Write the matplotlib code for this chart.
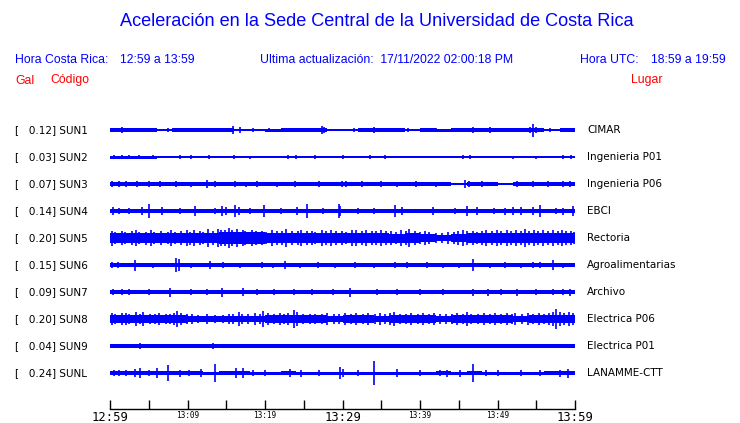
import numpy as np
import matplotlib
matplotlib.use("Agg")
import matplotlib.pyplot as plt
from matplotlib.transforms import blended_transform_factory

# ----------------------------------
# DATA
# ----------------------------------
codes = ["SUN1", "SUN2", "SUN3", "SUN4", "SUN5", "SUN6", "SUN7", "SUN8", "SUN9", "SUNL"]
peaks = [0.12, 0.03, 0.07, 0.14, 0.20, 0.15, 0.09, 0.20, 0.04, 0.24]
places = ["CIMAR", "Ingenieria P01", "Ingenieria P06", "EBCI", "Rectoria",
          "Agroalimentarias", "Archivo", "Electrica P06", "Electrica P01", "LANAMME-CTT"]

# time axis: minutes after 12:59
tick_minutes = [0, 5, 10, 15, 20, 25, 30, 35, 40, 45, 50, 55, 60]
big_labels = {0: "12:59", 30: "13:29", 60: "13:59"}
small_labels = {10: "13:09", 20: "13:19", 40: "13:39", 50: "13:49"}

# background envelope (half-width in px) per 2-minute window
env_sun1 = [1.9, 1.9, 1.8, 1.4, 1.9, 1.7, 1.9, 1.7, 1.3, 1.1, 1.5, 1.9, 1.9, 1.9, 1.4,
            1.1, 1.7, 1.9, 1.6, 1.3, 1.8, 1.5, 1.6, 1.9, 1.9, 1.9, 1.9, 1.9, 1.3, 1.9]
env_sun2 = [1.5, 1.5, 1.5, 1.2, 1.4, 1.3, 1.2, 1.0, 1.3, 1.0, 0.9, 1.3, 1.0, 1.2, 1.2,
            1.0, 0.8, 0.9, 0.7, 0.8, 0.7, 0.7, 1.2, 1.2, 0.6, 0.7, 0.7, 0.7, 1.0, 1.4]
env_sun3 = [2.4, 2.3, 2.3, 2.2, 2.3, 2.0, 2.2, 1.9, 1.9, 1.9, 1.9, 1.9, 1.9, 1.9, 2.0,
            1.9, 1.9, 1.9, 1.9, 1.9, 1.9, 1.9, 0.6, 2.0, 1.9, 0.6, 2.0, 2.0, 2.0, 2.2]
env_sun4 = [2.2, 1.9, 1.9, 1.9, 1.9, 1.9, 1.9, 1.9, 1.9, 1.9, 1.9, 1.9, 1.9, 1.9, 1.9,
            1.9, 1.9, 1.9, 1.9, 1.9, 1.9, 1.9, 1.9, 1.9, 1.9, 1.9, 2.0, 1.9, 1.9, 2.0]
env_sun5 = [5.2, 5.2, 5.0, 5.0, 5.2, 5.2, 5.4, 5.6, 5.6, 5.6, 5.4, 5.2, 5.0, 5.2, 5.0,
            4.8, 4.8, 4.7, 4.5, 4.6, 4.2, 3.4, 3.8, 4.8, 4.8, 5.2, 5.2, 5.4, 5.2, 5.2]
env_sun6 = [1.9, 1.8, 1.8, 1.8, 1.8, 1.8, 1.8, 1.8, 1.8, 1.8, 1.8, 1.8, 1.8, 1.8, 1.8,
            1.6, 1.8, 1.8, 1.8, 1.8, 1.8, 1.8, 1.8, 1.8, 1.8, 1.8, 1.8, 1.8, 1.8, 1.8]
env_sun7 = [2.0, 2.0, 2.0, 2.0, 2.0, 2.0, 2.0, 2.0, 2.0, 2.0, 2.0, 2.0, 2.0, 2.0, 2.0,
            2.0, 2.0, 2.0, 2.0, 2.0, 2.0, 2.0, 2.0, 2.0, 2.0, 2.0, 2.0, 2.0, 2.0, 2.0]
env_sun8 = [4.0, 3.9, 3.6, 3.6, 3.9, 3.2, 3.2, 2.8, 2.8, 3.4, 3.6, 3.8, 3.9, 3.6, 3.2,
            3.6, 3.6, 3.4, 3.7, 3.7, 3.6, 3.4, 3.6, 3.7, 3.7, 3.6, 3.4, 3.6, 4.1, 4.2]
env_sun9 = [1.6, 1.6, 1.6, 1.6, 1.6, 1.6, 1.6, 1.6, 1.6, 1.6, 1.6, 1.6, 1.6, 1.6, 1.6,
            1.6, 1.6, 1.6, 1.6, 1.6, 1.6, 1.6, 1.6, 1.6, 1.6, 1.6, 1.6, 1.6, 1.6, 1.6]
env_sunl = [2.0, 2.0, 1.8, 2.0, 2.0, 1.6, 1.5, 2.0, 1.8, 1.5, 1.5, 1.6, 1.5, 1.5, 1.5,
            1.5, 1.5, 1.5, 1.5, 1.5, 1.5, 1.6, 1.5, 1.8, 1.5, 1.5, 1.5, 1.5, 1.8, 2.0]

# bursts: (minute, half-height in px)
spk_sun1 = [(0.5, 2.4), (1.5, 2.8), (3.0, 2.4), (4.5, 2.2), (7.5, 2.2), (9.0, 2.4),
            (11.0, 2.4), (12.5, 2.4), (14.0, 2.3), (15.9, 3.8), (16.8, 2.6), (18.5, 2.0),
            (20.5, 2.0), (22.8, 2.2), (24.5, 2.4), (26.0, 2.4), (27.3, 3.6), (27.6, 2.8),
            (31.5, 2.0), (33.0, 2.4), (34.0, 2.6), (36.5, 2.2), (38.5, 2.0), (40.5, 2.2),
            (42.0, 2.4), (44.5, 2.2), (46.9, 2.6), (47.5, 2.4), (49.0, 2.6), (50.2, 2.2),
            (52.0, 2.4), (53.5, 2.4), (54.2, 3.2), (54.6, 6.5), (55.0, 3.0), (56.8, 2.2),
            (58.5, 2.2), (59.5, 2.4)]
spk_sun2 = [(0.5, 1.7), (1.5, 1.8), (2.5, 1.8), (3.8, 1.6), (5.5, 1.6), (9.0, 1.6),
            (10.5, 1.6), (12.8, 1.6), (16.0, 1.7), (18.0, 1.5), (23.0, 1.7), (24.0, 1.6),
            (26.5, 1.6), (30.0, 1.7), (33.5, 1.6), (35.5, 1.6), (45.5, 1.8), (46.5, 1.8),
            (52.0, 1.5), (55.0, 1.5), (58.5, 1.7), (59.5, 1.7)]
spk_sun3 = [(0.3, 3.0), (1.2, 2.8), (2.0, 2.8), (3.5, 2.7), (5.0, 2.6), (6.5, 2.7),
            (8.5, 2.6), (10.5, 2.5), (12.5, 3.6), (13.5, 3.2), (16.1, 3.0), (17.5, 2.5),
            (19.0, 2.8), (21.5, 2.5), (23.9, 3.2), (27.0, 2.6), (29.9, 3.0), (30.5, 2.8),
            (32.5, 2.6), (35.0, 2.6), (37.0, 2.5), (39.5, 2.6), (42.0, 2.5), (45.8, 3.6),
            (46.3, 3.2), (48.0, 2.6), (52.5, 2.6), (54.6, 3.2), (56.5, 2.6), (58.5, 3.0),
            (59.4, 3.2)]
spk_sun4 = [(0.4, 4.0), (1.2, 3.0), (2.5, 3.0), (4.1, 4.0), (5.0, 7.0), (6.7, 4.0),
            (9.0, 3.0), (11.0, 5.0), (13.5, 3.0), (14.4, 5.0), (15.0, 4.0), (16.1, 6.0),
            (16.6, 4.0), (18.0, 3.0), (19.9, 6.0), (22.0, 3.0), (24.1, 4.0), (25.4, 7.0),
            (27.5, 3.0), (29.5, 7.0), (29.7, 5.0), (32.0, 3.0), (34.0, 3.0), (36.8, 6.0),
            (37.7, 4.0), (41.7, 4.0), (44.5, 3.0), (46.0, 5.0), (47.3, 4.0), (49.5, 3.0),
            (51.0, 3.5), (52.0, 4.0), (53.0, 4.0), (54.6, 4.0), (55.5, 6.0), (57.5, 3.0),
            (58.5, 3.5), (59.8, 5.0)]
spk_sun5 = [(0.2, 7.5), (0.7, 6.0), (1.5, 7.0), (1.9, 5.8), (2.8, 6.8), (3.4, 7.6),
            (3.7, 6.0), (4.6, 6.5), (5.3, 7.8), (5.7, 6.2), (6.6, 7.0), (7.5, 6.4),
            (7.9, 7.8), (8.4, 6.2), (9.1, 7.4), (9.9, 8.2), (10.3, 6.5), (10.9, 8.4),
            (11.6, 7.0), (12.0, 6.2), (12.7, 8.6), (13.3, 7.2), (13.9, 9.2), (14.3, 7.8),
            (14.9, 8.4), (15.3, 9.6), (15.8, 7.6), (16.4, 9.0), (17.1, 8.2), (17.4, 7.0),
            (18.3, 7.8), (18.9, 6.6), (19.6, 7.4), (20.1, 6.4), (20.9, 7.8), (21.5, 6.6),
            (22.2, 7.2), (22.7, 8.6), (23.5, 7.2), (24.2, 6.6), (24.6, 7.8), (25.4, 6.8),
            (26.1, 7.4), (26.5, 6.4), (27.3, 8.0), (27.9, 7.0), (28.5, 8.4), (29.1, 6.8),
            (29.9, 7.2), (30.4, 6.2), (31.2, 7.6), (31.7, 8.2), (32.5, 6.8), (33.0, 7.6),
            (33.8, 6.6), (34.3, 7.2), (35.0, 8.2), (35.6, 6.8), (36.2, 7.4), (36.9, 6.4),
            (37.5, 7.8), (38.2, 7.0), (38.6, 8.8), (39.4, 7.2), (40.0, 6.4), (40.6, 7.2),
            (41.2, 6.0), (42.0, 5.2), (42.9, 4.8), (43.6, 5.6), (44.4, 6.0), (44.9, 7.0),
            (45.6, 7.6), (46.1, 6.8), (46.8, 7.4), (47.4, 6.4), (48.0, 7.4), (48.5, 8.4),
            (49.3, 7.2), (49.9, 7.8), (50.5, 6.8), (51.2, 7.6), (51.8, 7.0), (52.4, 8.4),
            (53.0, 7.2), (53.6, 9.0), (54.0, 7.4), (54.7, 8.4), (55.2, 7.0), (55.9, 7.8),
            (56.5, 6.8), (57.1, 7.6), (57.8, 7.0), (58.3, 8.0), (58.9, 6.8), (59.5, 7.4),
            (59.9, 6.4)]
spk_sun6 = [(0.2, 3.0), (1.0, 2.6), (3.2, 5.5), (5.5, 2.5), (8.5, 7.0), (8.9, 6.0),
            (10.5, 2.5), (12.9, 4.0), (14.6, 3.0), (16.8, 2.5), (19.6, 3.0), (21.0, 2.5),
            (22.6, 4.0), (24.5, 2.5), (26.9, 3.0), (29.0, 2.5), (31.6, 3.0), (34.0, 2.5),
            (36.8, 3.0), (38.3, 3.0), (40.9, 3.0), (43.0, 2.5), (45.0, 2.5), (46.9, 6.0),
            (49.0, 2.5), (51.0, 3.0), (53.0, 2.5), (54.6, 3.0), (55.5, 3.0), (57.1, 5.0),
            (58.5, 2.5)]
spk_sun7 = [(0.4, 3.0), (1.5, 2.6), (2.5, 2.6), (5.0, 2.6), (7.7, 4.5), (10.5, 2.6),
            (12.5, 2.6), (14.4, 4.5), (17.2, 4.0), (19.0, 2.6), (21.1, 3.0), (23.7, 3.0),
            (26.0, 2.6), (28.8, 3.0), (31.0, 4.5), (34.5, 2.6), (37.0, 2.6), (40.0, 2.6),
            (43.0, 2.6), (46.9, 3.5), (48.8, 3.5), (50.5, 2.6), (52.5, 3.5), (55.0, 2.8),
            (57.2, 3.0), (58.5, 2.8), (59.4, 3.5)]
spk_sun8 = [(0.2, 6.4), (0.6, 5.0), (1.5, 5.6), (2.1, 6.2), (2.5, 4.8), (3.3, 6.6),
            (3.9, 5.2), (4.3, 6.8), (5.1, 5.4), (5.8, 4.6), (6.3, 5.8), (7.2, 4.6),
            (7.7, 5.2), (8.2, 6.4), (8.6, 8.0), (9.2, 6.0), (9.9, 5.2), (10.6, 4.6),
            (11.4, 4.2), (12.5, 4.6), (13.5, 4.0), (14.6, 4.4), (15.4, 5.2), (15.9, 4.6),
            (16.6, 6.6), (17.0, 5.2), (17.8, 4.8), (18.7, 5.8), (19.3, 5.0), (19.8, 8.0),
            (20.4, 6.2), (21.1, 5.0), (21.9, 5.8), (22.4, 4.8), (23.0, 6.4), (23.7, 9.0),
            (24.1, 6.6), (24.9, 5.2), (25.8, 4.6), (26.5, 5.4), (27.4, 4.6), (28.0, 5.6),
            (28.9, 4.8), (29.5, 5.4), (30.3, 6.2), (31.1, 4.6), (31.8, 5.6), (32.7, 4.8),
            (33.3, 5.8), (34.2, 4.8), (34.9, 5.6), (35.5, 4.8), (36.1, 5.8), (36.6, 6.6),
            (37.4, 5.2), (38.2, 4.8), (38.9, 5.8), (39.7, 4.8), (40.4, 5.6), (41.2, 4.6),
            (41.8, 5.8), (42.6, 4.8), (43.3, 5.4), (44.1, 4.6), (44.8, 5.6), (45.5, 4.8),
            (46.0, 6.6), (46.6, 5.4), (47.5, 4.8), (48.2, 5.8), (49.0, 4.6), (49.7, 5.6),
            (50.4, 4.8), (51.2, 5.8), (51.9, 4.8), (52.3, 6.0), (53.1, 4.6), (53.9, 5.6),
            (54.6, 4.8), (55.3, 5.6), (56.0, 4.8), (56.6, 6.2), (57.1, 7.2), (57.6, 10.0),
            (58.0, 7.4), (58.6, 6.4), (59.2, 7.0), (59.8, 6.0)]
spk_sun9 = [(3.9, 2.6), (9.8, 2.4), (13.3, 2.6), (19.0, 2.2), (30.5, 2.4), (36.0, 2.2),
            (44.0, 2.2), (52.0, 2.2), (59.0, 2.2)]
spk_sunl = [(0.5, 3.0), (1.2, 2.6), (2.0, 2.6), (3.2, 4.0), (3.9, 5.0), (5.0, 2.6),
            (6.0, 5.0), (7.5, 8.0), (9.0, 3.5), (10.2, 2.6), (11.8, 4.0), (13.5, 9.0),
            (16.3, 5.0), (17.1, 5.0), (18.5, 2.6), (20.0, 2.6), (23.2, 4.0), (24.7, 3.5),
            (27.0, 2.6), (29.7, 6.0), (30.0, 4.0), (32.0, 2.6), (34.1, 12.0), (37.0, 4.0),
            (40.0, 2.6), (42.6, 3.0), (43.5, 3.5), (45.2, 3.5), (46.9, 9.0), (48.5, 2.6),
            (50.0, 2.6), (53.0, 2.6), (55.5, 2.6), (58.1, 3.5), (59.1, 4.5)]

envelopes = [env_sun1, env_sun2, env_sun3, env_sun4, env_sun5,
             env_sun6, env_sun7, env_sun8, env_sun9, env_sunl]
bursts = [spk_sun1, spk_sun2, spk_sun3, spk_sun4, spk_sun5,
          spk_sun6, spk_sun7, spk_sun8, spk_sun9, spk_sunl]

# ----------------------------------
# LAYOUT (pixels of a 740x423 image)
# ----------------------------------
W, H = 740, 423
BLUE = "#0000ff"
RED = "#ff0000"
row0, row_step = 130, 27
x0, x1 = 110, 575


def fx(x):
    return x / W


def fy(y):
    return 1 - y / H


fig = plt.figure(figsize=(W / 100, H / 100), dpi=100)
fig.patch.set_facecolor("white")

hfont = dict(family="Liberation Sans", color=BLUE, fontsize=8.8, va="center")

fig.text(fx(377), fy(22), "Aceleración en la Sede Central de la Universidad de Costa Rica",
         family="Liberation Sans", color=BLUE, fontsize=13.1, ha="center", va="center")
fig.text(fx(15), fy(60), "Hora Costa Rica:", **hfont)
fig.text(fx(120.5), fy(60), "12:59 a 13:59", **hfont)
fig.text(fx(260.5), fy(60), "Ultima actualización:  17/11/2022 02:00:18 PM", **hfont)
fig.text(fx(580.5), fy(60), "Hora UTC:", **hfont)
fig.text(fx(651), fy(60), "18:59 a 19:59", **hfont)
rfont = dict(hfont, color=RED)
fig.text(fx(15), fy(80.5), "Gal", **rfont)
fig.text(fx(50), fy(80.5), "Código", **rfont)
fig.text(fx(630.5), fy(80.5), "Lugar", **rfont)

# ----------------------------------
# TRACES
# ----------------------------------
ax = fig.add_axes([fx(x0), fy(392), (x1 - x0) / W, (392 - 112) / H])
ax.set_xlim(0, 60)
ax.set_ylim(392, 112)
ax.axis("off")

edges = np.arange(0, 61, 2)
for i, code in enumerate(codes):
    yc = row0 + i * row_step
    env = np.array(envelopes[i] + [envelopes[i][-1]])
    ax.fill_between(edges, yc - env, yc + env, step="post", color=BLUE, lw=0)
    ax.plot([0, 60], [yc, yc], color=BLUE, lw=1.2)
    t = [b[0] for b in bursts[i]]
    h = [b[1] for b in bursts[i]]
    ax.vlines(t, [yc - v for v in h], [yc + v for v in h], color=BLUE, lw=1.2)

    fig.text(fx(15), fy(yc), "[   %.2f] %s" % (peaks[i], code),
             family="DejaVu Sans", fontsize=7.5, va="center", color="black")
    fig.text(fx(587), fy(yc), places[i],
             family="DejaVu Sans", fontsize=7.5, va="center", color="black")

# ----------------------------------
# TIME AXIS
# ----------------------------------
tax = fig.add_axes([fx(x0), fy(409), (x1 - x0) / W, 8.5 / H])
tax.set_xlim(0, 60)
tax.set_ylim(0, 1)
for s in ["top", "left", "right"]:
    tax.spines[s].set_visible(False)
tax.spines["bottom"].set_linewidth(1.0)
tax.set_yticks([])
tax.set_xticks(tick_minutes)
tax.set_xticklabels([""] * len(tick_minutes))
tax.tick_params(axis="x", direction="in", length=6.2, width=1.0, pad=0)

lab_tr = blended_transform_factory(tax.transData, fig.transFigure)
for m in tick_minutes:
    if m in big_labels:
        fig.text(m, fy(421.3), big_labels[m], family="DejaVu Sans Mono", fontsize=8.8,
                 ha="center", va="baseline", transform=lab_tr)
    elif m in small_labels:
        fig.text(m, fy(418.3), small_labels[m], family="DejaVu Sans Mono", fontsize=5.6,
                 ha="center", va="baseline", transform=lab_tr)

fig.savefig("out.png", dpi=100)
